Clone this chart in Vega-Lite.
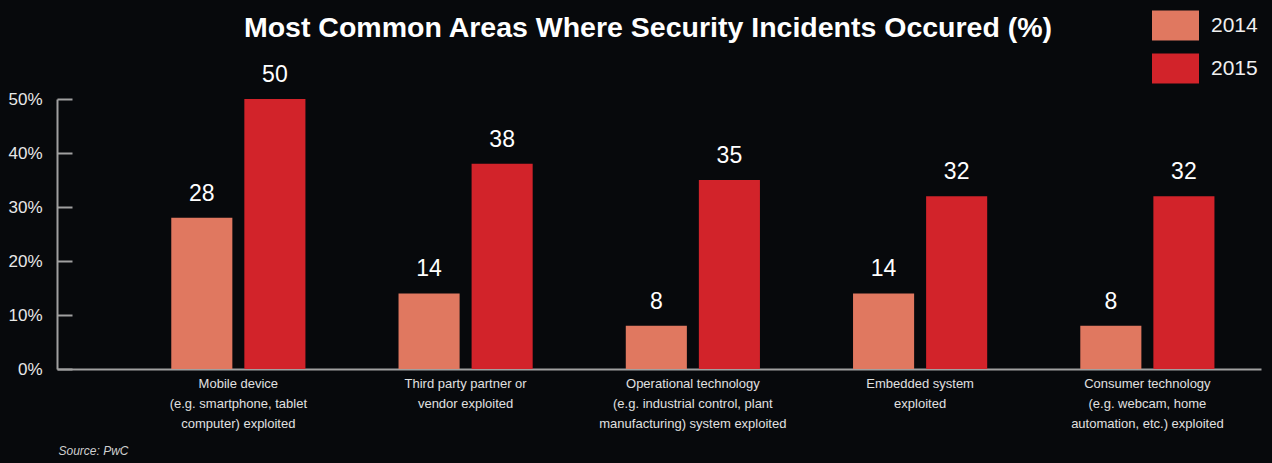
{
  "$schema": "https://vega.github.io/schema/vega-lite/v6.json",
  "autosize": {"type": "none"},
  "width": 1204,
  "height": 270,
  "padding": {"left": 57, "top": 99, "right": 11, "bottom": 94},
  "background": "#07090c",
  "config": {"view": {"stroke": null}, "font": "Liberation Sans"},
  "title": {
    "text": "Most Common Areas Where Security Incidents Occured (%)",
    "font": "Liberation Sans",
    "fontSize": 28.5,
    "fontWeight": "bold",
    "color": "#ffffff",
    "anchor": "middle",
    "frame": "group",
    "offset": -40,
    "dx": -11
  },
  "data": {
    "values": [
      {"category": "Mobile device|(e.g. smartphone, tablet|computer) exploited", "year": "2014", "value": 28},
      {"category": "Mobile device|(e.g. smartphone, tablet|computer) exploited", "year": "2015", "value": 50},
      {"category": "Third party partner or|vendor exploited", "year": "2014", "value": 14},
      {"category": "Third party partner or|vendor exploited", "year": "2015", "value": 38},
      {"category": "Operational technology|(e.g. industrial control, plant|manufacturing) system exploited", "year": "2014", "value": 8},
      {"category": "Operational technology|(e.g. industrial control, plant|manufacturing) system exploited", "year": "2015", "value": 35},
      {"category": "Embedded system|exploited", "year": "2014", "value": 14},
      {"category": "Embedded system|exploited", "year": "2015", "value": 32},
      {"category": "Consumer technology|(e.g. webcam, home|automation, etc.) exploited", "year": "2014", "value": 8},
      {"category": "Consumer technology|(e.g. webcam, home|automation, etc.) exploited", "year": "2015", "value": 32}
    ]
  },
  "encoding": {
    "x": {
      "field": "category",
      "type": "nominal",
      "sort": null,
      "scale": {"paddingInner": 0, "paddingOuter": 0.149, "align": 1},
      "axis": {
        "title": "Source: PwC",
        "titleFont": "Liberation Sans",
        "titleFontStyle": "italic",
        "titleFontWeight": "normal",
        "titleFontSize": 12,
        "titleColor": "#d0d0d0",
        "titleAnchor": "start",
        "titleAlign": "left",
        "titleBaseline": "bottom",
        "titleX": 1,
        "titleY": 88,
        "labelAngle": 0,
        "labelExpr": "split(datum.label, '|')",
        "labelFontSize": 13,
        "labelLineHeight": 20,
        "labelLimit": 400,
        "labelColor": "#e0e0e0",
        "labelPadding": 8,
        "ticks": false,
        "domainColor": "#a0a0a0",
        "domainWidth": 2
      }
    },
    "xOffset": {
      "field": "year",
      "type": "nominal",
      "scale": {"paddingInner": 0.164, "paddingOuter": 0.637}
    },
    "y": {
      "field": "value",
      "type": "quantitative",
      "scale": {"domain": [0, 50]},
      "axis": {
        "title": null,
        "values": [0, 10, 20, 30, 40, 50],
        "labelExpr": "datum.value + '%'",
        "labelFontSize": 17,
        "labelColor": "#e8e8e8",
        "labelPadding": 30,
        "tickSize": -15,
        "tickColor": "#a0a0a0",
        "tickWidth": 2,
        "domainColor": "#a0a0a0",
        "domainWidth": 2,
        "grid": false
      }
    }
  },
  "layer": [
    {
      "mark": {"type": "bar"},
      "encoding": {
        "color": {
          "field": "year",
          "type": "nominal",
          "scale": {"domain": ["2014", "2015"], "range": ["#E07860", "#D2232A"]},
          "legend": {
            "title": null,
            "orient": "none",
            "legendX": 1095,
            "legendY": -97,
            "symbolType": "M-1,-0.64H1V0.64H-1Z",
            "symbolSize": 2209,
            "symbolStrokeWidth": 0,
            "symbolOpacity": 1,
            "labelFontSize": 21,
            "labelColor": "#f0f0f0",
            "labelOffset": 12,
            "rowPadding": 4,
            "labelFont": "Liberation Sans"
          }
        }
      }
    },
    {
      "mark": {"type": "text", "dy": -12, "baseline": "bottom", "fontSize": 23, "color": "#ffffff"},
      "encoding": {"text": {"field": "value", "type": "quantitative"}}
    }
  ]
}
